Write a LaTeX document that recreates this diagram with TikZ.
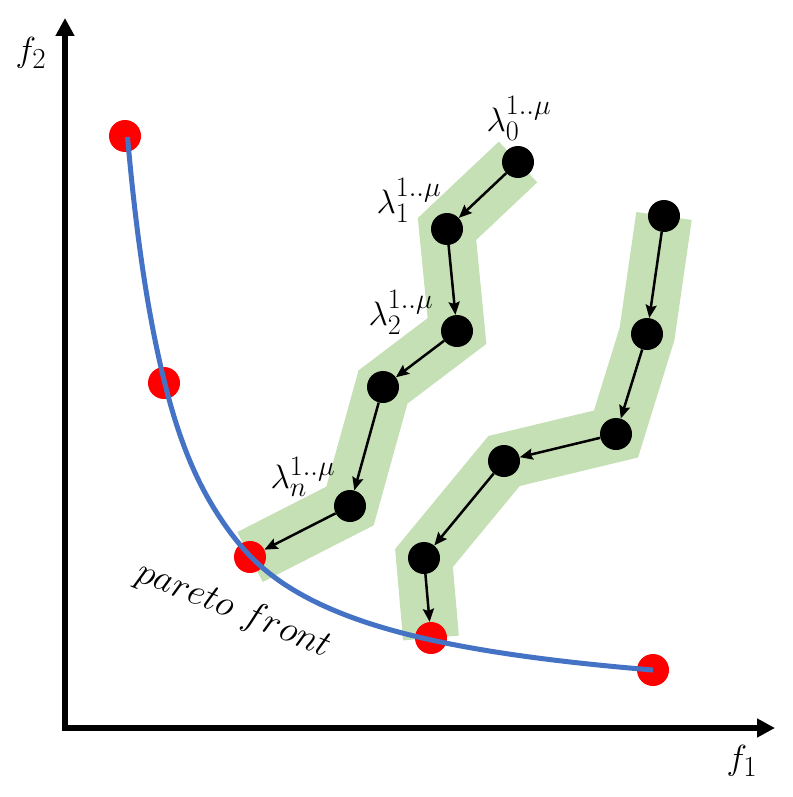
\documentclass[tikz,border=0pt]{standalone}
\usetikzlibrary{arrows.meta}
\definecolor{bandgreen}{HTML}{C5E0B4}
\definecolor{curveblue}{HTML}{4472C4}
\tikzset{
  band/.style={draw=bandgreen, line width=56pt, line join=miter, line cap=butt},
  blackdot/.style={circle, fill=black, minimum size=32pt, inner sep=0pt},
  reddot/.style={circle, fill=red, minimum size=32pt, inner sep=0pt},
  arr/.style={line width=2.5pt, -{Stealth[length=13pt,width=11pt,inset=2pt]}},
  axis/.style={line width=6pt, -{Triangle[length=18pt,width=18pt]}},
  lam/.style={inner sep=0pt, font=\Huge, scale=1.36},
  axlab/.style={inner sep=0pt, font=\Huge, scale=1.4}
}
\begin{document}
\begin{tikzpicture}[x=1pt,y=-1pt]
\useasboundingbox (0,0) rectangle (792,797);
% positions
\coordinate (pa0) at (518,162);
\coordinate (pa1) at (447,229);
\coordinate (pa2) at (457,331);
\coordinate (pa3) at (383,387);
\coordinate (pa4) at (350,506);
\coordinate (pb0) at (664,216);
\coordinate (pb1) at (647,334);
\coordinate (pb2) at (616,434);
\coordinate (pb3) at (504,461);
\coordinate (pb4) at (424,558);
\coordinate (pr1) at (125,136);
\coordinate (pr2) at (164,383);
\coordinate (pr3) at (250,557);
\coordinate (pr4) at (431,638);
\coordinate (pr5) at (653,670);
% green bands
\draw[band] (pa0) -- (pa1) -- (pa2) -- (pa3) -- (pa4) -- (pr3);
\draw[band] (pb0) -- (pb1) -- (pb2) -- (pb3) -- (pb4) -- (pr4);
% axes
\coordinate (origin) at (65,728);
\coordinate (ytip) at (65,18);
\coordinate (xtip) at (775,728);
\draw[axis] ([yshift=-3pt]origin) -- (ytip);
\draw[axis] ([xshift=-3pt]origin) -- (xtip);
\node[axlab] (f2) at (31,53) {$f_2$};
\node[axlab] (f1) at (742,761) {$f_1$};
% red dots
\node[reddot] (r1) at (pr1) {};
\node[reddot] (r2) at (pr2) {};
\node[reddot] (r3) at (pr3) {};
\node[reddot] (r4) at (pr4) {};
\node[reddot] (r5) at (pr5) {};
% pareto curve
\draw[curveblue, line width=5pt] plot[domain=125:653, samples=400] ({\x + 5/(1+((\x-185)/60)^4)}, {718-276/((\x-77.5)/100)});
% black dots
\node[blackdot] (a0) at (pa0) {};
\node[blackdot] (a1) at (pa1) {};
\node[blackdot] (a2) at (pa2) {};
\node[blackdot] (a3) at (pa3) {};
\node[blackdot] (a4) at (pa4) {};
\node[blackdot] (b0) at (pb0) {};
\node[blackdot] (b1) at (pb1) {};
\node[blackdot] (b2) at (pb2) {};
\node[blackdot] (b3) at (pb3) {};
\node[blackdot] (b4) at (pb4) {};
% arrows
\draw[arr] (a0) -- (a1);
\draw[arr] (a1) -- (a2);
\draw[arr] (a2) -- (a3);
\draw[arr] (a3) -- (a4);
\draw[arr] (a4) -- (r3);
\draw[arr] (b0) -- (b1);
\draw[arr] (b1) -- (b2);
\draw[arr] (b2) -- (b3);
\draw[arr] (b3) -- (b4);
\draw[arr] (b4) -- (r4);
% labels
\node[lam] (l0) at (519,118) {$\lambda_0^{1..\mu}$};
\node[lam] (l1) at (409,200) {$\lambda_1^{1..\mu}$};
\node[lam] (l2) at (401,312) {$\lambda_2^{1..\mu}$};
\node[lam] (ln) at (303,477) {$\lambda_n^{1..\mu}$};
\node[inner sep=0pt, rotate=-22, font=\Huge, scale=1.5] (pf) at (234,610) {$pareto\ front$};
\end{tikzpicture}
\end{document}
